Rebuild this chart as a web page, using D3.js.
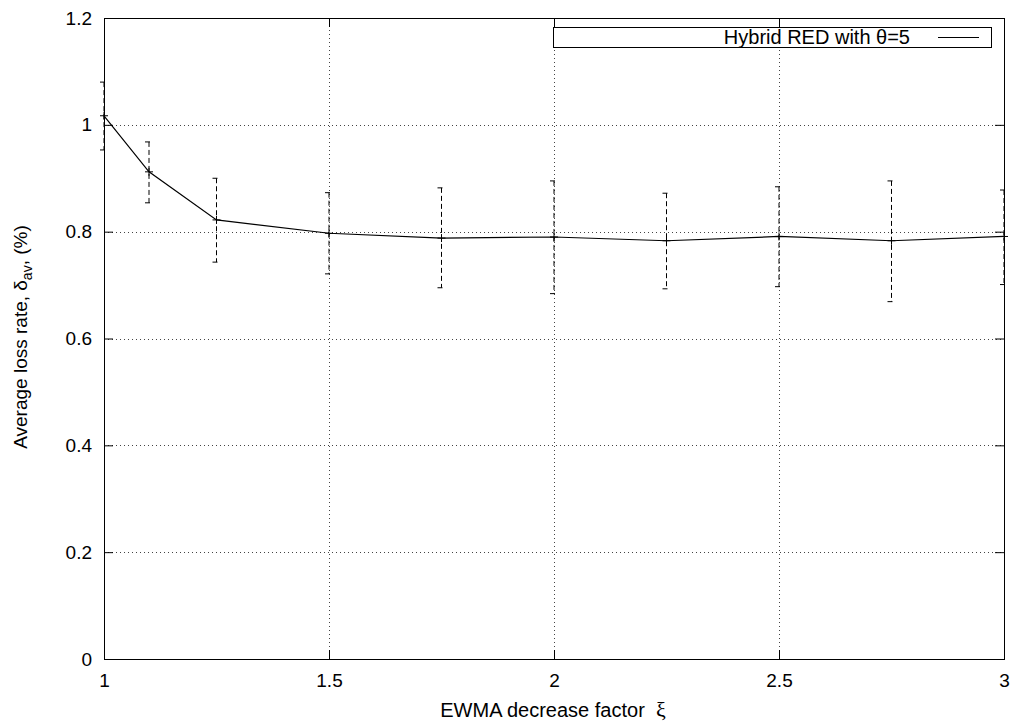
<!DOCTYPE html>
<html>
<head>
<meta charset="utf-8">
<script src="https://cdn.jsdelivr.net/npm/d3@7"></script>
<style>
  body { margin: 0; background: #fff; }
  svg { display: block; font-family: "Liberation Sans", Arial, sans-serif; }
</style>
</head>
<body>
<div id="chart"></div>
<script>
// data
var xVals  = [1, 1.1, 1.25, 1.5, 1.75, 2, 2.25, 2.5, 2.75, 3];
var meanVals = [1.017, 0.912, 0.822, 0.797, 0.788, 0.790, 0.783, 0.791, 0.783, 0.791];
var lowVals  = [0.953, 0.854, 0.743, 0.721, 0.695, 0.684, 0.693, 0.697, 0.669, 0.701];
var highVals = [1.080, 0.968, 0.900, 0.873, 0.882, 0.895, 0.872, 0.884, 0.895, 0.878];

var xTicks = [1, 1.5, 2, 2.5, 3];
var yTicks = [0, 0.2, 0.4, 0.6, 0.8, 1, 1.2];
var seriesName = "Hybrid RED with \u03b8=5";

var svgWidth = 1017;
var svgHeight = 725;
var margin = { top: 18, right: 13, bottom: 66, left: 104 };
var width = svgWidth - margin.left - margin.right;
var height = svgHeight - margin.top - margin.bottom;
var fontSize = 19;

var svg = d3.select("#chart").append("svg")
  .attr("width", svgWidth)
  .attr("height", svgHeight);

var chartGroup = svg.append("g")
  .attr("transform", `translate(${margin.left}, ${margin.top})`);

var xScale = d3.scaleLinear().domain([1, 3]).range([0, width]);
var yScale = d3.scaleLinear().domain([0, 1.2]).range([height, 0]);

var data = xVals.map(function(x, i) {
  return { x: x, y: meanVals[i], lo: lowVals[i], hi: highVals[i] };
});

// grid (dotted)
var grid = chartGroup.append("g")
  .attr("stroke", "#444")
  .attr("stroke-width", 1)
  .attr("stroke-dasharray", "1,3");

grid.selectAll(".vgrid")
  .data(xTicks.slice(1, -1))
  .enter().append("line")
  .attr("x1", d => Math.round(xScale(d)) + 0.5)
  .attr("x2", d => Math.round(xScale(d)) + 0.5)
  .attr("y1", 0)
  .attr("y2", height);

grid.selectAll(".hgrid")
  .data(yTicks.slice(1, -1))
  .enter().append("line")
  .attr("x1", 0)
  .attr("x2", width)
  .attr("y1", d => Math.round(yScale(d)) + 0.5)
  .attr("y2", d => Math.round(yScale(d)) + 0.5);

// axes, ticks pointing inwards
var bottomAxis = d3.axisBottom(xScale)
  .tickValues(xTicks)
  .tickFormat(d3.format("~g"))
  .tickSizeInner(-9).tickSizeOuter(0).tickPadding(14.5);
var leftAxis = d3.axisLeft(yScale)
  .tickValues(yTicks)
  .tickFormat(d3.format("~g"))
  .tickSizeInner(-9).tickSizeOuter(0).tickPadding(12);
var topAxis = d3.axisTop(xScale)
  .tickValues(xTicks).tickFormat("")
  .tickSizeInner(-9).tickSizeOuter(0);
var rightAxis = d3.axisRight(yScale)
  .tickValues(yTicks).tickFormat("")
  .tickSizeInner(-9).tickSizeOuter(0);

var axes = [
  chartGroup.append("g").attr("transform", `translate(0, ${height})`).call(bottomAxis),
  chartGroup.append("g").call(leftAxis),
  chartGroup.append("g").call(topAxis),
  chartGroup.append("g").attr("transform", `translate(${width}, 0)`).call(rightAxis)
];

axes.forEach(function(a) {
  a.select(".domain").remove();
  a.selectAll("line").attr("stroke", "#000");
  a.selectAll("text")
    .attr("fill", "#000")
    .style("font-size", fontSize + "px")
    .style("font-family", "'Liberation Sans', Arial, sans-serif");
});

// frame
chartGroup.append("rect")
  .attr("x", 0.5)
  .attr("y", 0.5)
  .attr("width", width)
  .attr("height", height)
  .attr("fill", "none")
  .attr("stroke", "#000")
  .attr("stroke-width", 1);

// error bars (dashed)
var errGroup = chartGroup.append("g")
  .attr("stroke", "#000")
  .attr("stroke-width", 1)
  .attr("stroke-dasharray", "5,3");

errGroup.selectAll(".ebar")
  .data(data)
  .enter().append("line")
  .attr("x1", d => xScale(d.x))
  .attr("x2", d => xScale(d.x))
  .attr("y1", d => yScale(d.hi))
  .attr("y2", d => yScale(d.lo));

errGroup.selectAll(".capHi")
  .data(data)
  .enter().append("line")
  .attr("x1", d => xScale(d.x) - 4)
  .attr("x2", d => xScale(d.x) + 4)
  .attr("y1", d => yScale(d.hi))
  .attr("y2", d => yScale(d.hi));

errGroup.selectAll(".capLo")
  .data(data)
  .enter().append("line")
  .attr("x1", d => xScale(d.x) - 4)
  .attr("x2", d => xScale(d.x) + 4)
  .attr("y1", d => yScale(d.lo))
  .attr("y2", d => yScale(d.lo));

// mean line
var line = d3.line()
  .x(d => xScale(d.x))
  .y(d => yScale(d.y));

chartGroup.append("path")
  .datum(data)
  .attr("d", line)
  .attr("fill", "none")
  .attr("stroke", "#000")
  .attr("stroke-width", 1.2);

// "+" markers
var marks = chartGroup.append("g")
  .attr("stroke", "#000")
  .attr("stroke-width", 1);

marks.selectAll(".mh")
  .data(data)
  .enter().append("line")
  .attr("x1", d => xScale(d.x) - 4)
  .attr("x2", d => xScale(d.x) + 4)
  .attr("y1", d => yScale(d.y))
  .attr("y2", d => yScale(d.y));

marks.selectAll(".mv")
  .data(data)
  .enter().append("line")
  .attr("x1", d => xScale(d.x))
  .attr("x2", d => xScale(d.x))
  .attr("y1", d => yScale(d.y) - 4)
  .attr("y2", d => yScale(d.y) + 4);

// legend
var legend = svg.append("g");
legend.append("rect")
  .attr("x", 553.5)
  .attr("y", 27.5)
  .attr("width", 438)
  .attr("height", 20)
  .attr("fill", "#fff")
  .attr("stroke", "#000");
legend.append("text")
  .attr("x", 910)
  .attr("y", 44)
  .attr("text-anchor", "end")
  .style("font-size", "20px")
  .text(seriesName);
legend.append("line")
  .attr("x1", 938)
  .attr("x2", 979)
  .attr("y1", 37.5)
  .attr("y2", 37.5)
  .attr("stroke", "#000");

// axis titles
var xTitle = svg.append("text")
  .attr("x", 553)
  .attr("y", 717)
  .attr("text-anchor", "middle")
  .style("font-size", "20px");
xTitle.append("tspan").text("EWMA decrease factor \u00a0");
xTitle.append("tspan")
  .style("font-family", "'Liberation Serif', 'DejaVu Serif', serif")
  .style("font-size", "22px")
  .text("\u03be");

var yTitle = svg.append("text")
  .attr("transform", "translate(27, 337) rotate(-90)")
  .attr("text-anchor", "middle")
  .style("font-size", fontSize + "px");
yTitle.append("tspan").text("Average loss rate, \u03b4");
yTitle.append("tspan")
  .attr("dy", 5)
  .style("font-size", "14px")
  .text("av");
yTitle.append("tspan")
  .attr("dy", -5)
  .text(", (%)");
</script>
</body>
</html>
